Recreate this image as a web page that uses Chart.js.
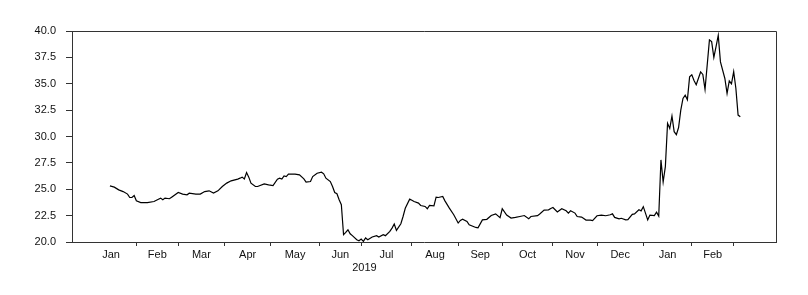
<!DOCTYPE html>
<html lang="en">
<head>
    <meta charset="UTF-8">
    <title>Daily series, Jan 2019 - Mar 2020</title>
    <style>
        body {
            margin: 0;
            background-color: #fff;
        }
        #chart {
            display: block;
        }
    </style>
</head>
<body>
    <canvas id="chart" width="808" height="295"></canvas>

    <script src="https://cdn.jsdelivr.net/npm/chart.js"></script>
    <script>
        // observation number (trading day, 0 = first day of Jan 2019) and value
        const obsIndex = [
            9, 11, 13, 15, 17, 18, 19, 20, 21, 23, 26, 29, 31, 32, 33, 34, 36, 37, 40, 42,
            44, 45, 48, 50, 52, 54, 56, 58, 60, 62, 64, 67, 68, 69, 70, 71, 72, 73, 75, 76,
            79, 81, 83, 85, 86, 87, 88, 89, 90, 93, 95, 97, 98, 100, 101, 103, 105, 106, 107, 109,
            110, 111, 112, 113, 114, 115, 116, 117, 118, 119, 121, 122, 123, 124, 125, 126, 128, 130, 131, 133,
            134, 136, 137, 138, 139, 141, 142, 143, 145, 146, 147, 149, 150, 152, 153, 154, 156, 157, 158, 160,
            161, 163, 165, 167, 168, 169, 171, 172, 175, 176, 178, 180, 182, 184, 186, 187, 189, 191, 193, 195,
            197, 199, 200, 203, 204, 206, 208, 209, 210, 212, 214, 216, 217, 218, 220, 221, 223, 225, 227, 228,
            230, 232, 234, 236, 237, 238, 240, 241, 243, 244, 246, 247, 249, 250, 251, 253, 254, 256, 257, 258,
            259, 260, 261, 262, 263, 264, 265, 266, 267, 268, 269, 270, 271, 272, 273, 274, 275, 277, 278, 279,
            281, 282, 283, 284, 285, 286, 288, 289, 290, 291, 292, 293, 294, 295
        ];
        const values = [
            25.32, 25.20, 24.94, 24.78, 24.54, 24.22, 24.22, 24.40, 23.90, 23.74, 23.74, 23.84, 24.06, 24.16, 24.00, 24.16, 24.10, 24.25, 24.69, 24.54,
            24.47, 24.63, 24.54, 24.54, 24.78, 24.85, 24.63, 24.85, 25.26, 25.58, 25.80, 25.96, 26.05, 26.15, 25.98, 26.58, 26.15, 25.58, 25.26, 25.26,
            25.51, 25.42, 25.35, 25.96, 26.05, 25.96, 26.27, 26.20, 26.43, 26.43, 26.36, 25.98, 25.67, 25.73, 26.20, 26.52, 26.62, 26.46, 26.05, 25.73,
            25.26, 24.69, 24.57, 24.00, 23.53, 20.69, 20.91, 21.16, 20.78, 20.60, 20.22, 20.12, 20.28, 20.06, 20.38, 20.22, 20.47, 20.60, 20.47, 20.69,
            20.60, 21.00, 21.32, 21.70, 21.10, 21.73, 22.42, 23.20, 24.06, 23.95, 23.84, 23.69, 23.46, 23.37, 23.15, 23.46, 23.43, 24.25, 24.22, 24.31,
            23.90, 23.21, 22.58, 21.80, 22.05, 22.17, 21.95, 21.63, 21.38, 21.35, 22.10, 22.15, 22.51, 22.67, 22.30, 23.15, 22.55, 22.27, 22.33, 22.42,
            22.51, 22.20, 22.42, 22.50, 22.65, 23.02, 23.05, 23.18, 23.27, 22.84, 23.15, 22.96, 22.74, 22.96, 22.74, 22.42, 22.36, 22.08, 22.08, 22.02,
            22.49, 22.55, 22.49, 22.58, 22.67, 22.33, 22.20, 22.25, 22.10, 22.12, 22.62, 22.67, 23.05, 22.95, 23.35, 22.10, 22.55, 22.50, 22.82, 22.45,
            27.78, 25.68, 27.14, 31.25, 30.77, 31.94, 30.46, 30.18, 30.85, 32.50, 33.61, 33.92, 33.48, 35.65, 35.85, 35.30, 34.90, 36.12, 35.88, 34.46,
            39.15, 39.00, 37.50, 38.52, 39.59, 37.07, 35.50, 34.08, 35.26, 35.00, 36.15, 34.55, 32.03, 31.87
        ];

        // month boundaries (observation number) and month labels
        const monthStarts = [-2, 21, 40, 61, 82, 104, 123, 146, 167, 187, 210, 230, 251, 273, 292];
        const monthLabels = ['Jan', 'Feb', 'Mar', 'Apr', 'May', 'Jun', 'Jul', 'Aug', 'Sep', 'Oct', 'Nov', 'Dec', 'Jan', 'Feb'];
        const yearLabel = '2019';
        const yearStart = -2;
        const yearEnd = 251;

        const yTicks = [20, 22.5, 25, 27.5, 30, 32.5, 35, 37.5, 40];

        const tickMarks = monthStarts.slice(1);
        const labelAt = new Map();
        monthLabels.forEach((m, i) => {
            labelAt.set((monthStarts[i] + monthStarts[i + 1]) / 2, m);
        });

        const points = obsIndex.map((x, i) => ({ x: x, y: values[i] }));

        const frameColor = '#333';
        const textColor = '#111';
        const font = { family: '"Liberation Sans", Arial, sans-serif', size: 11 };

        // top and right edge of the box, plus the year under the months
        const extras = {
            id: 'extras',
            afterDraw(chart) {
                const { ctx, chartArea } = chart;
                const xs = chart.scales.x;
                ctx.save();
                ctx.strokeStyle = frameColor;
                ctx.lineWidth = 1;
                ctx.beginPath();
                ctx.moveTo(chartArea.left, chartArea.top + 0.5);
                ctx.lineTo(chartArea.right + 0.5, chartArea.top + 0.5);
                ctx.lineTo(chartArea.right + 0.5, chartArea.bottom);
                ctx.stroke();

                ctx.fillStyle = textColor;
                ctx.font = font.size + 'px ' + font.family;
                ctx.textAlign = 'center';
                ctx.textBaseline = 'middle';
                ctx.fillText(yearLabel, xs.getPixelForValue((yearStart + yearEnd) / 2), 268);
                ctx.restore();
            }
        };

        new Chart(document.getElementById('chart'), {
            type: 'line',
            data: {
                datasets: [{
                    data: points,
                    borderColor: '#000',
                    borderWidth: 1.2,
                    pointRadius: 0,
                    tension: 0,
                    fill: false
                }]
            },
            options: {
                responsive: false,
                maintainAspectRatio: false,
                animation: false,
                layout: { padding: { left: 0, right: 32, top: 31, bottom: 0 } },
                plugins: {
                    legend: { display: false },
                    tooltip: { enabled: false }
                },
                scales: {
                    x: {
                        type: 'linear',
                        min: -8.2,
                        max: 311.2,
                        afterFit: (scale) => { scale.height = 53; },
                        afterBuildTicks: (scale) => {
                            const vals = tickMarks.concat(Array.from(labelAt.keys()));
                            vals.sort((a, b) => a - b);
                            scale.ticks = vals.map(v => ({ value: v }));
                        },
                        border: { display: true, color: frameColor, width: 1 },
                        grid: {
                            drawOnChartArea: false,
                            tickLength: 4,
                            tickColor: (ctx) => (ctx.tick && tickMarks.includes(ctx.tick.value)) ? frameColor : 'rgba(0,0,0,0)'
                        },
                        ticks: {
                            autoSkip: false,
                            maxRotation: 0,
                            padding: 2,
                            color: textColor,
                            font: font,
                            callback: (v) => labelAt.has(v) ? labelAt.get(v) : ''
                        }
                    },
                    y: {
                        min: 20,
                        max: 40,
                        afterFit: (scale) => { scale.width = 72; },
                        afterBuildTicks: (scale) => {
                            scale.ticks = yTicks.map(v => ({ value: v }));
                        },
                        border: { display: true, color: frameColor, width: 1 },
                        grid: {
                            drawOnChartArea: false,
                            tickLength: 6,
                            tickColor: frameColor
                        },
                        ticks: {
                            padding: 10,
                            color: textColor,
                            font: font,
                            callback: (v) => Number(v).toFixed(1)
                        }
                    }
                }
            },
            plugins: [extras]
        });
    </script>
</body>
</html>
